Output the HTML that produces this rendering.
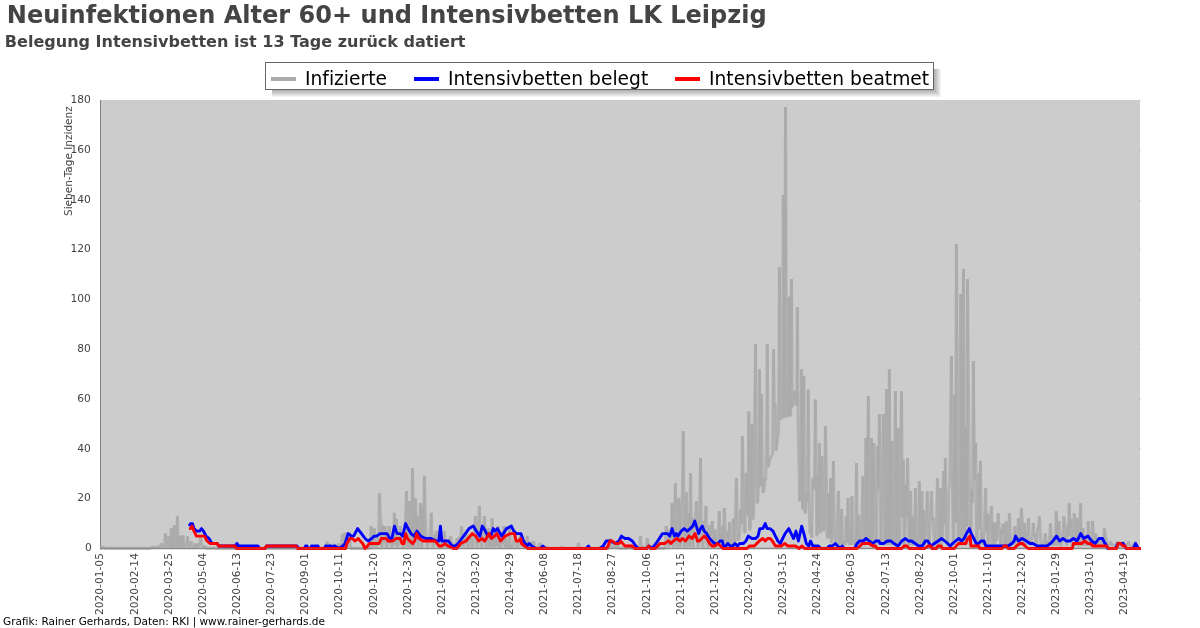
<!DOCTYPE html>
<html lang="de"><head><meta charset="utf-8"><title>Neuinfektionen Alter 60+ und Intensivbetten LK Leipzig</title>
<style>
html,body{margin:0;padding:0;background:#fff}
body{width:1200px;height:628px;overflow:hidden}
svg{display:block}
text{font-family:"DejaVu Sans","Liberation Sans",sans-serif;font-variant-ligatures:none}
.t{font-size:10.67px;fill:#444}
</style></head><body>
<svg width="1200" height="628" viewBox="0 0 1200 628">
<defs><clipPath id="cp"><rect x="100" y="99" width="1041.5" height="452"/></clipPath></defs>
<rect width="1200" height="628" fill="#fff"/>
<text x="6.8" y="23.4" font-size="24.05" font-weight="bold" fill="#444">Neuinfektionen Alter 60+ und Intensivbetten LK Leipzig</text>
<text x="4.8" y="46.9" font-size="16.05" font-weight="bold" fill="#444">Belegung Intensivbetten ist 13 Tage zurück datiert</text>
<rect x="100" y="100" width="1040" height="448" fill="#ccc"/>

<line x1="1140" y1="548.5" x2="1141.5" y2="548.5" stroke="#e4e4e4" stroke-width="1"/>
<text class="t" x="91.9" y="551.1" text-anchor="end">0</text>
<line x1="1140" y1="498.5" x2="1141.5" y2="498.5" stroke="#e4e4e4" stroke-width="1"/>
<text class="t" x="90.8" y="501.3" text-anchor="end">20</text>
<line x1="1140" y1="448.5" x2="1141.5" y2="448.5" stroke="#e4e4e4" stroke-width="1"/>
<text class="t" x="90.8" y="451.5" text-anchor="end">40</text>
<line x1="1140" y1="399.5" x2="1141.5" y2="399.5" stroke="#e4e4e4" stroke-width="1"/>
<text class="t" x="90.8" y="401.8" text-anchor="end">60</text>
<line x1="1140" y1="349.5" x2="1141.5" y2="349.5" stroke="#e4e4e4" stroke-width="1"/>
<text class="t" x="90.8" y="352.0" text-anchor="end">80</text>
<line x1="1140" y1="299.5" x2="1141.5" y2="299.5" stroke="#e4e4e4" stroke-width="1"/>
<text class="t" x="90.8" y="302.2" text-anchor="end">100</text>
<line x1="1140" y1="249.5" x2="1141.5" y2="249.5" stroke="#e4e4e4" stroke-width="1"/>
<text class="t" x="90.8" y="252.4" text-anchor="end">120</text>
<line x1="1140" y1="200.5" x2="1141.5" y2="200.5" stroke="#e4e4e4" stroke-width="1"/>
<text class="t" x="90.8" y="202.7" text-anchor="end">140</text>
<line x1="1140" y1="150.5" x2="1141.5" y2="150.5" stroke="#e4e4e4" stroke-width="1"/>
<text class="t" x="90.8" y="152.9" text-anchor="end">160</text>
<line x1="1140" y1="100.5" x2="1141.5" y2="100.5" stroke="#e4e4e4" stroke-width="1"/>
<text class="t" x="90.8" y="103.1" text-anchor="end">180</text>
<text class="t" transform="translate(103.4,615) rotate(-90)">2020-01-05</text>
<text class="t" transform="translate(137.5,615) rotate(-90)">2020-02-14</text>
<text class="t" transform="translate(171.7,615) rotate(-90)">2020-03-25</text>
<text class="t" transform="translate(205.8,615) rotate(-90)">2020-05-04</text>
<text class="t" transform="translate(239.9,615) rotate(-90)">2020-06-13</text>
<text class="t" transform="translate(274.1,615) rotate(-90)">2020-07-23</text>
<text class="t" transform="translate(308.2,615) rotate(-90)">2020-09-01</text>
<text class="t" transform="translate(342.3,615) rotate(-90)">2020-10-11</text>
<text class="t" transform="translate(376.5,615) rotate(-90)">2020-11-20</text>
<text class="t" transform="translate(410.6,615) rotate(-90)">2020-12-30</text>
<text class="t" transform="translate(444.7,615) rotate(-90)">2021-02-08</text>
<text class="t" transform="translate(478.9,615) rotate(-90)">2021-03-20</text>
<text class="t" transform="translate(513.0,615) rotate(-90)">2021-04-29</text>
<text class="t" transform="translate(547.1,615) rotate(-90)">2021-06-08</text>
<text class="t" transform="translate(581.3,615) rotate(-90)">2021-07-18</text>
<text class="t" transform="translate(615.4,615) rotate(-90)">2021-08-27</text>
<text class="t" transform="translate(649.5,615) rotate(-90)">2021-10-06</text>
<text class="t" transform="translate(683.7,615) rotate(-90)">2021-11-15</text>
<text class="t" transform="translate(717.8,615) rotate(-90)">2021-12-25</text>
<text class="t" transform="translate(751.9,615) rotate(-90)">2022-02-03</text>
<text class="t" transform="translate(786.1,615) rotate(-90)">2022-03-15</text>
<text class="t" transform="translate(820.2,615) rotate(-90)">2022-04-24</text>
<text class="t" transform="translate(854.3,615) rotate(-90)">2022-06-03</text>
<text class="t" transform="translate(888.5,615) rotate(-90)">2022-07-13</text>
<text class="t" transform="translate(922.6,615) rotate(-90)">2022-08-22</text>
<text class="t" transform="translate(956.7,615) rotate(-90)">2022-10-01</text>
<text class="t" transform="translate(990.9,615) rotate(-90)">2022-11-10</text>
<text class="t" transform="translate(1025.0,615) rotate(-90)">2022-12-20</text>
<text class="t" transform="translate(1059.1,615) rotate(-90)">2023-01-29</text>
<text class="t" transform="translate(1093.3,615) rotate(-90)">2023-03-10</text>
<text class="t" transform="translate(1127.4,615) rotate(-90)">2023-04-19</text>
<text class="t" style="font-size:10.5px" transform="translate(72,216) rotate(-90)">Sieben-Tage Inzidenz</text>
<line x1="100.5" y1="100" x2="100.5" y2="549" stroke="#808080" stroke-width="1"/>
<g clip-path="url(#cp)" fill="none">
<g stroke="#aaa" stroke-width="3" stroke-opacity="0.8" stroke-linecap="butt">
<path d="M100,548.3L102.3,548.3"/>
<path d="M102.3,548.3L103.2,546.4"/>
<path d="M103.2,546.4L104.1,548.3"/>
<path d="M104.1,548.3L151.4,548.3"/>
<path d="M151.4,548.3L152.3,546.3"/>
<path d="M152.3,546.3L153.1,547.8"/>
<path d="M153.1,547.8L154,547.3"/>
<path d="M154,547.3L154.8,546.5"/>
<path d="M154.8,546.5L155.6,547.2"/>
<path d="M155.6,547.2L156.5,547.4"/>
<path d="M156.5,547.4L157.3,546.7"/>
<path d="M157.3,546.7L158.2,547.4"/>
<path d="M158.2,547.4L159,546.7"/>
<path d="M159,546.7L159.8,546.3"/>
<path d="M159.8,546.3L160.7,545.6"/>
<path d="M160.7,545.6L161.5,543.3"/>
<path d="M161.5,543.3L162.3,547.4"/>
<path d="M162.3,547.4L163.1,547.4"/>
<path d="M163.1,547.4L163.8,547.2"/>
<path d="M163.8,547.2L164.6,547.4"/>
<path d="M164.6,547.4L165.4,533.2"/>
<path d="M165.4,533.2L166.2,540.4"/>
<path d="M166.2,540.4L167.1,547.2"/>
<path d="M167.1,547.2L167.9,547.4"/>
<path d="M167.9,547.4L168.8,536.1"/>
<path d="M168.8,536.1L169.6,539.5"/>
<path d="M169.6,539.5L170.5,547.4"/>
<path d="M170.5,547.4L171.3,528.2"/>
<path d="M171.3,528.2L172.1,545.3"/>
<path d="M172.1,545.3L172.8,547.4"/>
<path d="M172.8,547.4L173.6,539.6"/>
<path d="M173.6,539.6L174.3,525.2"/>
<path d="M174.3,525.2L175.1,546.3"/>
<path d="M175.1,546.3L175.9,547.4"/>
<path d="M175.9,547.4L176.6,547.4"/>
<path d="M176.6,547.4L177.4,516.2"/>
<path d="M177.4,516.2L178.2,546.5"/>
<path d="M178.2,546.5L179,539.1"/>
<path d="M179,539.1L179.8,547.4"/>
<path d="M179.8,547.4L180.6,535.7"/>
<path d="M180.6,535.7L181.4,541.2"/>
<path d="M181.4,541.2L182.2,547.4"/>
<path d="M182.2,547.4L183,535.3"/>
<path d="M183,535.3L183.9,543.6"/>
<path d="M183.9,543.6L184.8,547.4"/>
<path d="M184.8,547.4L185.7,544"/>
<path d="M185.7,544L186.6,545.6"/>
<path d="M186.6,545.6L187.5,536.2"/>
<path d="M187.5,536.2L188.4,547.4"/>
<path d="M188.4,547.4L189.3,547.4"/>
<path d="M189.3,547.4L190.3,543.4"/>
<path d="M190.3,543.4L191.2,541.3"/>
<path d="M191.2,541.3L192.1,545"/>
<path d="M192.1,545L192.9,547.4"/>
<path d="M192.9,547.4L193.8,547.2"/>
<path d="M193.8,547.2L194.6,547.4"/>
<path d="M194.6,547.4L195.5,543.4"/>
<path d="M195.5,543.4L196.3,547.4"/>
<path d="M196.3,547.4L197.2,544.6"/>
<path d="M197.2,544.6L198,547.4"/>
<path d="M198,547.4L198.8,543.2"/>
<path d="M198.8,543.2L199.7,545.5"/>
<path d="M199.7,545.5L200.5,538"/>
<path d="M200.5,538L201.4,542.4"/>
<path d="M201.4,542.4L202.2,547.4"/>
<path d="M202.2,547.4L203.1,547.4"/>
<path d="M203.1,547.4L203.9,547.4"/>
<path d="M203.9,547.4L204.8,545.4"/>
<path d="M204.8,545.4L205.7,548.3"/>
<path d="M205.7,548.3L326.1,548.3"/>
<path d="M326.1,548.3L327,541.5"/>
<path d="M327,541.5L327.9,544.1"/>
<path d="M327.9,544.1L328.8,546.1"/>
<path d="M328.8,546.1L329.6,544.3"/>
<path d="M329.6,544.3L330.5,547.3"/>
<path d="M330.5,547.3L331.4,547.3"/>
<path d="M331.4,547.3L332.2,546.1"/>
<path d="M332.2,546.1L333.1,545.7"/>
<path d="M333.1,545.7L334,544"/>
<path d="M334,544L334.9,547.2"/>
<path d="M334.9,547.2L335.8,547.3"/>
<path d="M335.8,547.3L336.7,546.5"/>
<path d="M336.7,546.5L337.6,547.3"/>
<path d="M337.6,547.3L338.5,543.5"/>
<path d="M338.5,543.5L339.4,547.1"/>
<path d="M339.4,547.1L340.3,546.1"/>
<path d="M340.3,546.1L341.2,547"/>
<path d="M341.2,547L342.1,535.6"/>
<path d="M342.1,535.6L343,534"/>
<path d="M343,534L344.1,547.3"/>
<path d="M344.1,547.3L345.1,532.6"/>
<path d="M345.1,532.6L346,539.4"/>
<path d="M346,539.4L346.9,547.3"/>
<path d="M346.9,547.3L347.7,541.7"/>
<path d="M347.7,541.7L348.6,542.9"/>
<path d="M348.6,542.9L349.5,532"/>
<path d="M349.5,532L350.4,548.3"/>
<path d="M350.4,548.3L370.3,548.3"/>
<path d="M370.3,548.3L371.1,526"/>
<path d="M371.1,526L371.9,544.7"/>
<path d="M371.9,544.7L372.6,547.2"/>
<path d="M372.6,547.2L373.4,547.2"/>
<path d="M373.4,547.2L374.2,528.4"/>
<path d="M374.2,528.4L375,536.3"/>
<path d="M375,536.3L375.9,544.6"/>
<path d="M375.9,544.6L376.8,547.2"/>
<path d="M376.8,547.2L377.6,540.5"/>
<path d="M377.6,540.5L378.5,537.5"/>
<path d="M378.5,537.5L379.4,493.1"/>
<path d="M379.4,493.1L380.2,513.9"/>
<path d="M380.2,513.9L381,522.2"/>
<path d="M381,522.2L381.8,547.2"/>
<path d="M381.8,547.2L382.6,525.6"/>
<path d="M382.6,525.6L383.4,542.6"/>
<path d="M383.4,542.6L384.2,540.2"/>
<path d="M384.2,540.2L385,526"/>
<path d="M385,526L385.9,547.2"/>
<path d="M385.9,547.2L386.7,547.2"/>
<path d="M386.7,547.2L387.6,545.9"/>
<path d="M387.6,545.9L388.4,532.8"/>
<path d="M388.4,532.8L389.3,526"/>
<path d="M389.3,526L390.1,543.9"/>
<path d="M390.1,543.9L391,542.7"/>
<path d="M391,542.7L391.8,547.2"/>
<path d="M391.8,547.2L392.7,540.3"/>
<path d="M392.7,540.3L393.5,540.5"/>
<path d="M393.5,540.5L394.4,512.9"/>
<path d="M394.4,512.9L395.3,545.4"/>
<path d="M395.3,545.4L396.3,518.7"/>
<path d="M396.3,518.7L397.1,547.2"/>
<path d="M397.1,547.2L397.8,547.2"/>
<path d="M397.8,547.2L398.6,543.2"/>
<path d="M398.6,543.2L399.4,537.9"/>
<path d="M399.4,537.9L400.2,526"/>
<path d="M400.2,526L401.1,540.5"/>
<path d="M401.1,540.5L402,537.4"/>
<path d="M402,537.4L402.9,547.2"/>
<path d="M402.9,547.2L403.8,547.2"/>
<path d="M403.8,547.2L404.7,528.5"/>
<path d="M404.7,528.5L405.6,516.4"/>
<path d="M405.6,516.4L406.5,491.1"/>
<path d="M406.5,491.1L407.4,547.2"/>
<path d="M407.4,547.2L408.3,541.1"/>
<path d="M408.3,541.1L409.2,501.2"/>
<path d="M409.2,501.2L410.1,512.8"/>
<path d="M410.1,512.8L410.9,547.2"/>
<path d="M410.9,547.2L411.7,533.5"/>
<path d="M411.7,533.5L412.5,467.9"/>
<path d="M412.5,467.9L413.3,536.3"/>
<path d="M413.3,536.3L414,547.2"/>
<path d="M414,547.2L414.8,510.2"/>
<path d="M414.8,510.2L415.5,498.1"/>
<path d="M415.5,498.1L416.4,539.9"/>
<path d="M416.4,539.9L417.2,515.9"/>
<path d="M417.2,515.9L418,547.2"/>
<path d="M418,547.2L418.8,527.7"/>
<path d="M418.8,527.7L419.7,533.6"/>
<path d="M419.7,533.6L420.5,503"/>
<path d="M420.5,503L421.3,547.2"/>
<path d="M421.3,547.2L422,547.2"/>
<path d="M422,547.2L422.8,506.7"/>
<path d="M422.8,506.7L423.6,535.1"/>
<path d="M423.6,535.1L424.4,475.8"/>
<path d="M424.4,475.8L425.2,514"/>
<path d="M425.2,514L426.1,535"/>
<path d="M426.1,535L427,547.2"/>
<path d="M427,547.2L427.9,547.2"/>
<path d="M427.9,547.2L428.7,536.8"/>
<path d="M428.7,536.8L429.6,541.3"/>
<path d="M429.6,541.3L430.5,527.7"/>
<path d="M430.5,527.7L431.4,512.9"/>
<path d="M431.4,512.9L432.2,545.5"/>
<path d="M432.2,545.5L433.1,547.2"/>
<path d="M433.1,547.2L433.9,547.2"/>
<path d="M433.9,547.2L434.8,534.2"/>
<path d="M434.8,534.2L435.6,539.2"/>
<path d="M435.6,539.2L436.5,530.8"/>
<path d="M436.5,530.8L437.3,544.4"/>
<path d="M437.3,544.4L438.2,537.1"/>
<path d="M438.2,537.1L439.1,547.2"/>
<path d="M439.1,547.2L439.9,547.2"/>
<path d="M439.9,547.2L440.8,544.6"/>
<path d="M440.8,544.6L441.7,542.6"/>
<path d="M441.7,542.6L442.6,546.9"/>
<path d="M442.6,546.9L443.4,545.6"/>
<path d="M443.4,545.6L444.3,531.4"/>
<path d="M444.3,531.4L444.6,531.4"/>
<path d="M444.6,531.4L445.5,547.2"/>
<path d="M445.5,547.2L446.3,541.8"/>
<path d="M446.3,541.8L447.2,547.2"/>
<path d="M447.2,547.2L448.1,544.4"/>
<path d="M448.1,544.4L448.9,539.9"/>
<path d="M448.9,539.9L449.8,539.5"/>
<path d="M449.8,539.5L450.6,536.2"/>
<path d="M450.6,536.2L451.5,547.2"/>
<path d="M451.5,547.2L452.4,542.6"/>
<path d="M452.4,542.6L453.3,547.2"/>
<path d="M453.3,547.2L454.2,546.8"/>
<path d="M454.2,546.8L455.1,547.2"/>
<path d="M455.1,547.2L456,547.2"/>
<path d="M456,547.2L456.9,538.1"/>
<path d="M456.9,538.1L457.9,540.2"/>
<path d="M457.9,540.2L458.8,547.2"/>
<path d="M458.8,547.2L459.7,536.5"/>
<path d="M459.7,536.5L460.6,547.2"/>
<path d="M460.6,547.2L461.5,526"/>
<path d="M461.5,526L462.4,538.6"/>
<path d="M462.4,538.6L463.3,547.2"/>
<path d="M463.3,547.2L464.2,538.5"/>
<path d="M464.2,538.5L465.1,543.9"/>
<path d="M465.1,543.9L466,532"/>
<path d="M466,532L466.8,537.5"/>
<path d="M466.8,537.5L467.6,547"/>
<path d="M467.6,547L468.4,547.2"/>
<path d="M468.4,547.2L469.2,547.2"/>
<path d="M469.2,547.2L470,540.5"/>
<path d="M470,540.5L470.8,536.9"/>
<path d="M470.8,536.9L471.8,540.1"/>
<path d="M471.8,540.1L472.7,547.2"/>
<path d="M472.7,547.2L473.6,534.8"/>
<path d="M473.6,534.8L474.5,530.2"/>
<path d="M474.5,530.2L475.4,516"/>
<path d="M475.4,516L476.2,539"/>
<path d="M476.2,539L477,547.2"/>
<path d="M477,547.2L477.8,524"/>
<path d="M477.8,524L478.6,523.5"/>
<path d="M478.6,523.5L479.4,506"/>
<path d="M479.4,506L480.3,535.5"/>
<path d="M480.3,535.5L481.1,547.2"/>
<path d="M481.1,547.2L482,547.2"/>
<path d="M482,547.2L482.8,533.4"/>
<path d="M482.8,533.4L483.7,532.9"/>
<path d="M483.7,532.9L484.5,516"/>
<path d="M484.5,516L485.3,539.6"/>
<path d="M485.3,539.6L486.1,547.2"/>
<path d="M486.1,547.2L486.8,547.2"/>
<path d="M486.8,547.2L487.6,546.2"/>
<path d="M487.6,546.2L488.4,528.4"/>
<path d="M488.4,528.4L489.2,538.2"/>
<path d="M489.2,538.2L489.9,547.2"/>
<path d="M489.9,547.2L490.7,532.1"/>
<path d="M490.7,532.1L491.5,533.7"/>
<path d="M491.5,533.7L492.3,518.1"/>
<path d="M492.3,518.1L493.1,547.2"/>
<path d="M493.1,547.2L493.9,533.6"/>
<path d="M493.9,533.6L494.7,547.2"/>
<path d="M494.7,547.2L495.6,539.8"/>
<path d="M495.6,539.8L496.4,533.7"/>
<path d="M496.4,533.7L497.2,546.1"/>
<path d="M497.2,546.1L498.1,526"/>
<path d="M498.1,526L498.9,547.2"/>
<path d="M498.9,547.2L499.8,547"/>
<path d="M499.8,547L500.7,547.2"/>
<path d="M500.7,547.2L501.5,540.3"/>
<path d="M501.5,540.3L502.4,544"/>
<path d="M502.4,544L503.2,537.1"/>
<path d="M503.2,537.1L504.1,526"/>
<path d="M504.1,526L505,547.2"/>
<path d="M505,547.2L505.9,538.4"/>
<path d="M505.9,538.4L506.8,547.2"/>
<path d="M506.8,547.2L507.7,543.7"/>
<path d="M507.7,543.7L508.6,547.2"/>
<path d="M508.6,547.2L509.6,526.6"/>
<path d="M509.6,526.6L510.5,547.2"/>
<path d="M510.5,547.2L511.4,547.2"/>
<path d="M511.4,547.2L512.3,547.2"/>
<path d="M512.3,547.2L513.2,545.6"/>
<path d="M513.2,545.6L514.1,537.3"/>
<path d="M514.1,537.3L515,532"/>
<path d="M515,532L515.9,540.7"/>
<path d="M515.9,540.7L516.8,547.1"/>
<path d="M516.8,547.1L517.7,547.1"/>
<path d="M517.7,547.1L518.6,544.5"/>
<path d="M518.6,544.5L519.5,541.5"/>
<path d="M519.5,541.5L520.4,534.4"/>
<path d="M520.4,534.4L521.3,546"/>
<path d="M521.3,546L522.2,543.9"/>
<path d="M522.2,543.9L523,547.1"/>
<path d="M523,547.1L523.9,547.1"/>
<path d="M523.9,547.1L524.8,540.3"/>
<path d="M524.8,540.3L525.6,544.5"/>
<path d="M525.6,544.5L526.5,542.9"/>
<path d="M526.5,542.9L527.3,535.9"/>
<path d="M527.3,535.9L528.2,545.4"/>
<path d="M528.2,545.4L529.1,547.1"/>
<path d="M529.1,547.1L529.9,547.1"/>
<path d="M529.9,547.1L530.8,542.7"/>
<path d="M530.8,542.7L531.7,543.1"/>
<path d="M531.7,543.1L532.5,544.2"/>
<path d="M532.5,544.2L533.4,541.1"/>
<path d="M533.4,541.1L534.2,543.6"/>
<path d="M534.2,543.6L535,547.1"/>
<path d="M535,547.1L535.8,547.1"/>
<path d="M535.8,547.1L536.6,547.1"/>
<path d="M536.6,547.1L537.4,547"/>
<path d="M537.4,547L538.2,547.1"/>
<path d="M538.2,547.1L539,546.5"/>
<path d="M539,546.5L539.8,542.9"/>
<path d="M539.8,542.9L540.6,547.1"/>
<path d="M540.6,547.1L541.5,546.6"/>
<path d="M541.5,546.6L542.3,547.1"/>
<path d="M542.3,547.1L543.1,547.1"/>
<path d="M543.1,547.1L544,545.9"/>
<path d="M544,545.9L544.8,547.1"/>
<path d="M544.8,547.1L545.6,547.4"/>
<path d="M545.6,547.4L546.5,545.9"/>
<path d="M546.5,545.9L547.3,548.3"/>
<path d="M547.3,548.3L561.2,548.3"/>
<path d="M561.2,548.3L562.1,546.3"/>
<path d="M562.1,546.3L563,548.3"/>
<path d="M563,548.3L577.6,548.3"/>
<path d="M577.6,548.3L578.4,542.9"/>
<path d="M578.4,542.9L579.3,548.3"/>
<path d="M579.3,548.3L609.6,548.3"/>
<path d="M609.6,548.3L610.5,538.1"/>
<path d="M610.5,538.1L611.3,547.1"/>
<path d="M611.3,547.1L612.1,547.1"/>
<path d="M612.1,547.1L612.9,547.1"/>
<path d="M612.9,547.1L613.7,547.1"/>
<path d="M613.7,547.1L614.5,545.7"/>
<path d="M614.5,545.7L615.3,547"/>
<path d="M615.3,547L616.1,545.7"/>
<path d="M616.1,545.7L616.9,547.1"/>
<path d="M616.9,547.1L617.7,545.3"/>
<path d="M617.7,545.3L618.6,548.3"/>
<path d="M618.6,548.3L627.8,548.3"/>
<path d="M627.8,548.3L628.6,544.1"/>
<path d="M628.6,544.1L629.5,548.3"/>
<path d="M629.5,548.3L639.6,548.3"/>
<path d="M639.6,548.3L640.5,535.9"/>
<path d="M640.5,535.9L641.3,546.7"/>
<path d="M641.3,546.7L642.2,547.1"/>
<path d="M642.2,547.1L643.1,547.1"/>
<path d="M643.1,547.1L643.9,547.1"/>
<path d="M643.9,547.1L644.8,546.1"/>
<path d="M644.8,546.1L645.7,546.9"/>
<path d="M645.7,546.9L646.5,547.1"/>
<path d="M646.5,547.1L647.4,538.1"/>
<path d="M647.4,538.1L648.2,547.1"/>
<path d="M648.2,547.1L649.1,547.1"/>
<path d="M649.1,547.1L649.9,545.8"/>
<path d="M649.9,545.8L650.8,547.4"/>
<path d="M650.8,547.4L651.6,545.9"/>
<path d="M651.6,545.9L652.5,548.3"/>
<path d="M652.5,548.3L665.1,548.3"/>
<path d="M665.1,548.3L666,526"/>
<path d="M666,526L666.9,533.6"/>
<path d="M666.9,533.6L667.7,528.9"/>
<path d="M667.7,528.9L668.6,547"/>
<path d="M668.6,547L669.5,542.2"/>
<path d="M669.5,542.2L670.4,534.6"/>
<path d="M670.4,534.6L671.2,541.7"/>
<path d="M671.2,541.7L672.1,503"/>
<path d="M672.1,503L672.9,545.9"/>
<path d="M672.9,545.9L673.8,547"/>
<path d="M673.8,547L674.6,517.5"/>
<path d="M674.6,517.5L675.4,483"/>
<path d="M675.4,483L676.2,538.6"/>
<path d="M676.2,538.6L677,547"/>
<path d="M677,547L677.9,547"/>
<path d="M677.9,547L678.7,498"/>
<path d="M678.7,498L679.6,516.4"/>
<path d="M679.6,516.4L680.5,547"/>
<path d="M680.5,547L681.5,508"/>
<path d="M681.5,508L682.4,492.3"/>
<path d="M682.4,492.3L683.3,431"/>
<path d="M683.3,431L684.1,547"/>
<path d="M684.1,547L684.9,546.9"/>
<path d="M684.9,546.9L685.7,502.6"/>
<path d="M685.7,502.6L686.5,492"/>
<path d="M686.5,492L687.3,542.4"/>
<path d="M687.3,542.4L688.1,547"/>
<path d="M688.1,547L688.9,513.3"/>
<path d="M688.9,513.3L689.7,547"/>
<path d="M689.7,547L690.5,473"/>
<path d="M690.5,473L691.3,524.1"/>
<path d="M691.3,524.1L692.2,517.8"/>
<path d="M692.2,517.8L693,547"/>
<path d="M693,547L693.8,531.2"/>
<path d="M693.8,531.2L694.6,525.3"/>
<path d="M694.6,525.3L695.5,516.5"/>
<path d="M695.5,516.5L696.3,501"/>
<path d="M696.3,501L697.1,516.7"/>
<path d="M697.1,516.7L698,547"/>
<path d="M698,547L698.8,523"/>
<path d="M698.8,523L699.7,509.9"/>
<path d="M699.7,509.9L700.5,458"/>
<path d="M700.5,458L701.4,533.9"/>
<path d="M701.4,533.9L702.3,547"/>
<path d="M702.3,547L703.2,547"/>
<path d="M703.2,547L704.2,521.3"/>
<path d="M704.2,521.3L705.1,522.5"/>
<path d="M705.1,522.5L706,506"/>
<path d="M706,506L706.9,541"/>
<path d="M706.9,541L707.8,547"/>
<path d="M707.8,547L708.7,547"/>
<path d="M708.7,547L709.5,525.2"/>
<path d="M709.5,525.2L710.4,535.8"/>
<path d="M710.4,535.8L711.3,531.8"/>
<path d="M711.3,531.8L712.2,521"/>
<path d="M712.2,521L713.1,541.1"/>
<path d="M713.1,541.1L714,547"/>
<path d="M714,547L714.9,529.5"/>
<path d="M714.9,529.5L715.8,547"/>
<path d="M715.8,547L716.6,545.1"/>
<path d="M716.6,545.1L717.5,536.8"/>
<path d="M717.5,536.8L718.4,533.8"/>
<path d="M718.4,533.8L719.3,511"/>
<path d="M719.3,511L720.1,547"/>
<path d="M720.1,547L721,534.4"/>
<path d="M721,534.4L721.8,547"/>
<path d="M721.8,547L722.6,525.7"/>
<path d="M722.6,525.7L723.5,545"/>
<path d="M723.5,545L724.3,508"/>
<path d="M724.3,508L725.2,526.7"/>
<path d="M725.2,526.7L726,547"/>
<path d="M726,547L726.9,547"/>
<path d="M726.9,547L727.8,531"/>
<path d="M727.8,531L728.6,544.5"/>
<path d="M728.6,544.5L729.5,522"/>
<path d="M729.5,522L730.4,544.6"/>
<path d="M730.4,544.6L731.4,547"/>
<path d="M731.4,547L732.3,547"/>
<path d="M732.3,547L733.2,518.7"/>
<path d="M733.2,518.7L734,524.7"/>
<path d="M734,524.7L734.8,547"/>
<path d="M734.8,547L735.6,508.4"/>
<path d="M735.6,508.4L736.4,478"/>
<path d="M736.4,478L737.3,520.4"/>
<path d="M737.3,520.4L738.1,540.7"/>
<path d="M738.1,540.7L739,538.1"/>
<path d="M739,538.1L739.8,530.7"/>
<path d="M739.8,530.7L740.7,509.4"/>
<path d="M740.7,509.4L741.5,523.7"/>
<path d="M741.5,523.7L742.4,436"/>
<path d="M742.4,436L743.3,488"/>
<path d="M743.3,488L744.2,532.9"/>
<path d="M744.2,532.9L745.1,532.4"/>
<path d="M745.1,532.4L746.1,472.9"/>
<path d="M746.1,472.9L747,495.1"/>
<path d="M747,495.1L747.9,515.5"/>
<path d="M747.9,515.5L748.8,411.5"/>
<path d="M748.8,411.5L749.5,530.2"/>
<path d="M749.5,530.2L750.3,528.9"/>
<path d="M750.3,528.9L751,467.5"/>
<path d="M751,467.5L751.8,424"/>
<path d="M751.8,424L752.7,519.8"/>
<path d="M752.7,519.8L753.6,516.3"/>
<path d="M753.6,516.3L754.6,423.1"/>
<path d="M754.6,423.1L755.5,344"/>
<path d="M755.5,344L756.3,471.4"/>
<path d="M756.3,471.4L757.1,503.4"/>
<path d="M757.1,503.4L757.9,500.4"/>
<path d="M757.9,500.4L758.7,475.8"/>
<path d="M758.7,475.8L759.5,369.3"/>
<path d="M759.5,369.3L760.5,486.3"/>
<path d="M760.5,486.3L761.6,394"/>
<path d="M761.6,394L762.4,477.4"/>
<path d="M762.4,477.4L763.2,492.8"/>
<path d="M763.2,492.8L764,488.6"/>
<path d="M764,488.6L764.9,478.7"/>
<path d="M764.9,478.7L765.7,480.3"/>
<path d="M765.7,480.3L766.5,436.2"/>
<path d="M766.5,436.2L767.3,344"/>
<path d="M767.3,344L768.2,467.3"/>
<path d="M768.2,467.3L769.1,462.8"/>
<path d="M769.1,462.8L770,458.2"/>
<path d="M770,458.2L770.8,457"/>
<path d="M770.8,457L771.7,456"/>
<path d="M771.7,456L772.6,454.9"/>
<path d="M772.6,454.9L773.5,349"/>
<path d="M773.5,349L774.3,406.6"/>
<path d="M774.3,406.6L775.2,403.6"/>
<path d="M775.2,403.6L776,450.8"/>
<path d="M776,450.8L776.9,444"/>
<path d="M776.9,444L777.7,437.3"/>
<path d="M777.7,437.3L778.6,430.5"/>
<path d="M778.6,430.5L779.4,267"/>
<path d="M779.4,267L780.2,419"/>
<path d="M780.2,419L781,418.7"/>
<path d="M781,418.7L781.7,418.5"/>
<path d="M781.7,418.5L782.5,418.3"/>
<path d="M782.5,418.3L783.3,195"/>
<path d="M783.3,195L784.4,417.8"/>
<path d="M784.4,417.8L785.5,107"/>
<path d="M785.5,107L786.4,371.9"/>
<path d="M786.4,371.9L787.2,417"/>
<path d="M787.2,417L788.1,416.8"/>
<path d="M788.1,416.8L789,296.7"/>
<path d="M789,296.7L789.8,416.3"/>
<path d="M789.8,416.3L790.7,416.1"/>
<path d="M790.7,416.1L791.5,279"/>
<path d="M791.5,279L792.3,407.3"/>
<path d="M792.3,407.3L793.2,401.8"/>
<path d="M793.2,401.8L794,396.3"/>
<path d="M794,396.3L794.9,390.8"/>
<path d="M794.9,390.8L795.7,397.1"/>
<path d="M795.7,397.1L796.6,405.6"/>
<path d="M796.6,405.6L797.4,307"/>
<path d="M797.4,307L798.2,429.7"/>
<path d="M798.2,429.7L799,465.8"/>
<path d="M799,465.8L799.9,501.8"/>
<path d="M799.9,501.8L800.7,476.1"/>
<path d="M800.7,476.1L801.5,369.3"/>
<path d="M801.5,369.3L802.6,509.6"/>
<path d="M802.6,509.6L803.8,376"/>
<path d="M803.8,376L804.7,510.8"/>
<path d="M804.7,510.8L805.6,513.5"/>
<path d="M805.6,513.5L806.4,494.4"/>
<path d="M806.4,494.4L807.3,501.8"/>
<path d="M807.3,501.8L808.2,389.4"/>
<path d="M808.2,389.4L809.1,499"/>
<path d="M809.1,499L810,533.4"/>
<path d="M810,533.4L810.9,525.7"/>
<path d="M810.9,525.7L811.8,537.8"/>
<path d="M811.8,537.8L812.6,478.6"/>
<path d="M812.6,478.6L813.5,478.4"/>
<path d="M813.5,478.4L814.4,489.8"/>
<path d="M814.4,489.8L815.3,399.4"/>
<path d="M815.3,399.4L816.1,463.9"/>
<path d="M816.1,463.9L816.9,536.3"/>
<path d="M816.9,536.3L817.8,474"/>
<path d="M817.8,474L818.6,526.2"/>
<path d="M818.6,526.2L819.4,443"/>
<path d="M819.4,443L820.2,533.3"/>
<path d="M820.2,533.3L821.1,492.7"/>
<path d="M821.1,492.7L821.9,456"/>
<path d="M821.9,456L822.8,484.9"/>
<path d="M822.8,484.9L823.6,531.1"/>
<path d="M823.6,531.1L824.5,519.8"/>
<path d="M824.5,519.8L825.4,426"/>
<path d="M825.4,426L826.3,474.5"/>
<path d="M826.3,474.5L827.1,536.7"/>
<path d="M827.1,536.7L828,538.1"/>
<path d="M828,538.1L828.9,493.5"/>
<path d="M828.9,493.5L829.7,538.2"/>
<path d="M829.7,538.2L830.6,478"/>
<path d="M830.6,478L831.5,543.1"/>
<path d="M831.5,543.1L832.5,505.9"/>
<path d="M832.5,505.9L833.4,461"/>
<path d="M833.4,461L834.2,530.9"/>
<path d="M834.2,530.9L835.1,540.3"/>
<path d="M835.1,540.3L836,543.7"/>
<path d="M836,543.7L836.8,526.9"/>
<path d="M836.8,526.9L837.6,513.3"/>
<path d="M837.6,513.3L838.5,491"/>
<path d="M838.5,491L839.3,544.2"/>
<path d="M839.3,544.2L840.1,544.3"/>
<path d="M840.1,544.3L840.9,526.7"/>
<path d="M840.9,526.7L841.7,509"/>
<path d="M841.7,509L842.6,544.7"/>
<path d="M842.6,544.7L843.5,541"/>
<path d="M843.5,541L844.4,544.9"/>
<path d="M844.4,544.9L845.3,545"/>
<path d="M845.3,545L846.2,516.3"/>
<path d="M846.2,516.3L847.1,542.6"/>
<path d="M847.1,542.6L848,498"/>
<path d="M848,498L848.8,529.4"/>
<path d="M848.8,529.4L849.6,545"/>
<path d="M849.6,545L850.3,529.2"/>
<path d="M850.3,529.2L851.1,545"/>
<path d="M851.1,545L851.9,496"/>
<path d="M851.9,496L852.8,538.6"/>
<path d="M852.8,538.6L853.7,545"/>
<path d="M853.7,545L854.7,540.4"/>
<path d="M854.7,540.4L855.6,543.2"/>
<path d="M855.6,543.2L856.5,463"/>
<path d="M856.5,463L857.3,545"/>
<path d="M857.3,545L858.1,517.1"/>
<path d="M858.1,517.1L858.9,514.9"/>
<path d="M858.9,514.9L859.8,545"/>
<path d="M859.8,545L860.6,535.8"/>
<path d="M860.6,535.8L861.4,535.1"/>
<path d="M861.4,535.1L862.2,504.3"/>
<path d="M862.2,504.3L863,476"/>
<path d="M863,476L863.8,545.1"/>
<path d="M863.8,545.1L864.5,545.1"/>
<path d="M864.5,545.1L865.2,537.9"/>
<path d="M865.2,537.9L866,438"/>
<path d="M866,438L866.8,545.1"/>
<path d="M866.8,545.1L867.6,455.9"/>
<path d="M867.6,455.9L868.4,396"/>
<path d="M868.4,396L869.1,545.1"/>
<path d="M869.1,545.1L869.9,545.1"/>
<path d="M869.9,545.1L870.6,517.4"/>
<path d="M870.6,517.4L871.4,438"/>
<path d="M871.4,438L872.2,545.1"/>
<path d="M872.2,545.1L873,507.6"/>
<path d="M873,507.6L873.8,443"/>
<path d="M873.8,443L874.7,514.4"/>
<path d="M874.7,514.4L875.6,545.1"/>
<path d="M875.6,545.1L876.6,543.3"/>
<path d="M876.6,543.3L877.5,446"/>
<path d="M877.5,446L878.5,488.8"/>
<path d="M878.5,488.8L879.4,414"/>
<path d="M879.4,414L880.2,468.1"/>
<path d="M880.2,468.1L881,545.1"/>
<path d="M881,545.1L881.8,502.7"/>
<path d="M881.8,502.7L882.6,477.4"/>
<path d="M882.6,477.4L883.4,414"/>
<path d="M883.4,414L884.2,505.1"/>
<path d="M884.2,505.1L885,545.1"/>
<path d="M885,545.1L885.7,525.5"/>
<path d="M885.7,525.5L886.5,389"/>
<path d="M886.5,389L887.5,545.1"/>
<path d="M887.5,545.1L888.4,539.6"/>
<path d="M888.4,539.6L889.4,369.3"/>
<path d="M889.4,369.3L890.2,545.1"/>
<path d="M890.2,545.1L891.1,473.6"/>
<path d="M891.1,473.6L891.9,441"/>
<path d="M891.9,441L892.8,545.1"/>
<path d="M892.8,545.1L893.6,545.1"/>
<path d="M893.6,545.1L894.5,482.5"/>
<path d="M894.5,482.5L895.4,391.3"/>
<path d="M895.4,391.3L896.3,545.1"/>
<path d="M896.3,545.1L897.1,490.6"/>
<path d="M897.1,490.6L898,428"/>
<path d="M898,428L898.9,545.2"/>
<path d="M898.9,545.2L899.8,545.2"/>
<path d="M899.8,545.2L900.6,463.9"/>
<path d="M900.6,463.9L901.5,391.3"/>
<path d="M901.5,391.3L902.4,517.3"/>
<path d="M902.4,517.3L903.2,459.8"/>
<path d="M903.2,459.8L904.1,545.2"/>
<path d="M904.1,545.2L904.9,545.2"/>
<path d="M904.9,545.2L905.8,485.1"/>
<path d="M905.8,485.1L906.6,517.6"/>
<path d="M906.6,517.6L907.5,458"/>
<path d="M907.5,458L908.3,496.5"/>
<path d="M908.3,496.5L909,545.2"/>
<path d="M909,545.2L909.8,515.6"/>
<path d="M909.8,515.6L910.6,491"/>
<path d="M910.6,491L911.4,545.2"/>
<path d="M911.4,545.2L912.2,516.5"/>
<path d="M912.2,516.5L913,545.2"/>
<path d="M913,545.2L913.8,517.6"/>
<path d="M913.8,517.6L914.6,543.1"/>
<path d="M914.6,543.1L915.4,488"/>
<path d="M915.4,488L916.2,531.9"/>
<path d="M916.2,531.9L917,545.2"/>
<path d="M917,545.2L917.8,545.2"/>
<path d="M917.8,545.2L918.6,530.2"/>
<path d="M918.6,530.2L919.4,481"/>
<path d="M919.4,481L920.2,545.2"/>
<path d="M920.2,545.2L921.1,520.9"/>
<path d="M921.1,520.9L921.9,491"/>
<path d="M921.9,491L922.8,545.2"/>
<path d="M922.8,545.2L923.7,510.3"/>
<path d="M923.7,510.3L924.6,545.2"/>
<path d="M924.6,545.2L925.5,533.2"/>
<path d="M925.5,533.2L926.4,521.1"/>
<path d="M926.4,521.1L927.3,491"/>
<path d="M927.3,491L928.1,524.5"/>
<path d="M928.1,524.5L929,545.2"/>
<path d="M929,545.2L929.8,531.3"/>
<path d="M929.8,531.3L930.7,508.2"/>
<path d="M930.7,508.2L931.5,491"/>
<path d="M931.5,491L932.4,520.9"/>
<path d="M932.4,520.9L933.2,517.6"/>
<path d="M933.2,517.6L934.1,545.3"/>
<path d="M934.1,545.3L934.9,545.3"/>
<path d="M934.9,545.3L935.8,544.6"/>
<path d="M935.8,544.6L936.6,517.8"/>
<path d="M936.6,517.8L937.5,478"/>
<path d="M937.5,478L938.3,512.5"/>
<path d="M938.3,512.5L939,545.3"/>
<path d="M939,545.3L939.8,529.1"/>
<path d="M939.8,529.1L940.6,488"/>
<path d="M940.6,488L941.6,545.3"/>
<path d="M941.6,545.3L942.5,536.2"/>
<path d="M942.5,536.2L943.5,471"/>
<path d="M943.5,471L944.5,524.2"/>
<path d="M944.5,524.2L945.4,458"/>
<path d="M945.4,458L946.3,537.3"/>
<path d="M946.3,537.3L947.1,545.3"/>
<path d="M947.1,545.3L948,545.3"/>
<path d="M948,545.3L948.8,488.4"/>
<path d="M948.8,488.4L949.7,487.1"/>
<path d="M949.7,487.1L950.5,427.7"/>
<path d="M950.5,427.7L951.4,356"/>
<path d="M951.4,356L952.2,460.8"/>
<path d="M952.2,460.8L953.1,543.7"/>
<path d="M953.1,543.7L953.9,545.1"/>
<path d="M953.9,545.1L954.7,395"/>
<path d="M954.7,395L955.6,522.5"/>
<path d="M955.6,522.5L956.4,244"/>
<path d="M956.4,244L957.3,420.5"/>
<path d="M957.3,420.5L958.2,544"/>
<path d="M958.2,544L959.1,545.3"/>
<path d="M959.1,545.3L960,375.5"/>
<path d="M960,375.5L960.9,294"/>
<path d="M960.9,294L961.8,545.3"/>
<path d="M961.8,545.3L962.6,453.1"/>
<path d="M962.6,453.1L963.5,269"/>
<path d="M963.5,269L964.3,506.3"/>
<path d="M964.3,506.3L965.1,545.3"/>
<path d="M965.1,545.3L965.9,427.1"/>
<path d="M965.9,427.1L966.7,527"/>
<path d="M966.7,527L967.5,279"/>
<path d="M967.5,279L968.3,377.3"/>
<path d="M968.3,377.3L969.2,470.2"/>
<path d="M969.2,470.2L970,545.4"/>
<path d="M970,545.4L970.9,545.4"/>
<path d="M970.9,545.4L971.7,489"/>
<path d="M971.7,489L972.6,502.8"/>
<path d="M972.6,502.8L973.4,361"/>
<path d="M973.4,361L974.5,479.2"/>
<path d="M974.5,479.2L975.6,443"/>
<path d="M975.6,443L976.4,545.4"/>
<path d="M976.4,545.4L977.2,545.4"/>
<path d="M977.2,545.4L978,505.8"/>
<path d="M978,505.8L978.8,473"/>
<path d="M978.8,473L979.6,529.2"/>
<path d="M979.6,529.2L980.4,461"/>
<path d="M980.4,461L981.3,544.2"/>
<path d="M981.3,544.2L982.1,532.5"/>
<path d="M982.1,532.5L983,545.4"/>
<path d="M983,545.4L983.9,538.4"/>
<path d="M983.9,538.4L984.7,513.4"/>
<path d="M984.7,513.4L985.6,488"/>
<path d="M985.6,488L986.4,531.1"/>
<path d="M986.4,531.1L987.3,513.4"/>
<path d="M987.3,513.4L988.1,545.4"/>
<path d="M988.1,545.4L988.9,545.4"/>
<path d="M988.9,545.4L989.8,515.4"/>
<path d="M989.8,515.4L990.6,518.5"/>
<path d="M990.6,518.5L991.5,506"/>
<path d="M991.5,506L992.3,544.6"/>
<path d="M992.3,544.6L993.1,522.5"/>
<path d="M993.1,522.5L994,535.5"/>
<path d="M994,535.5L994.8,545.4"/>
<path d="M994.8,545.4L995.7,522.5"/>
<path d="M995.7,522.5L996.5,540.9"/>
<path d="M996.5,540.9L997.4,534.4"/>
<path d="M997.4,534.4L998.2,513.3"/>
<path d="M998.2,513.3L999.1,526.4"/>
<path d="M999.1,526.4L999.9,532"/>
<path d="M999.9,532L1000.8,545.4"/>
<path d="M1000.8,545.4L1001.6,529"/>
<path d="M1001.6,529L1002.5,533"/>
<path d="M1002.5,533L1003.3,523.5"/>
<path d="M1003.3,523.5L1004.1,537.2"/>
<path d="M1004.1,537.2L1004.8,545.5"/>
<path d="M1004.8,545.5L1005.6,536.3"/>
<path d="M1005.6,536.3L1006.3,521.1"/>
<path d="M1006.3,521.1L1007.1,545.5"/>
<path d="M1007.1,545.5L1007.8,545.5"/>
<path d="M1007.8,545.5L1008.6,545.5"/>
<path d="M1008.6,545.5L1009.4,513.3"/>
<path d="M1009.4,513.3L1010.3,535.5"/>
<path d="M1010.3,535.5L1011.2,544.5"/>
<path d="M1011.2,544.5L1012.1,545.5"/>
<path d="M1012.1,545.5L1013,545.5"/>
<path d="M1013,545.5L1013.9,540"/>
<path d="M1013.9,540L1014.8,526"/>
<path d="M1014.8,526L1015.7,543.1"/>
<path d="M1015.7,543.1L1016.6,545.5"/>
<path d="M1016.6,545.5L1017.5,539.4"/>
<path d="M1017.5,539.4L1018.4,518.1"/>
<path d="M1018.4,518.1L1019.2,530.2"/>
<path d="M1019.2,530.2L1019.9,545.5"/>
<path d="M1019.9,545.5L1020.7,522.1"/>
<path d="M1020.7,522.1L1021.5,508.4"/>
<path d="M1021.5,508.4L1022.2,524.1"/>
<path d="M1022.2,524.1L1023,545.5"/>
<path d="M1023,545.5L1023.7,542.6"/>
<path d="M1023.7,542.6L1024.5,522.9"/>
<path d="M1024.5,522.9L1025.3,545.3"/>
<path d="M1025.3,545.3L1026.1,545.5"/>
<path d="M1026.1,545.5L1026.9,532.5"/>
<path d="M1026.9,532.5L1027.7,535.1"/>
<path d="M1027.7,535.1L1028.5,518.1"/>
<path d="M1028.5,518.1L1029.3,540.2"/>
<path d="M1029.3,540.2L1030.1,542"/>
<path d="M1030.1,542L1030.9,545.5"/>
<path d="M1030.9,545.5L1031.7,537.2"/>
<path d="M1031.7,537.2L1032.5,537"/>
<path d="M1032.5,537L1033.3,522.9"/>
<path d="M1033.3,522.9L1034.2,536.3"/>
<path d="M1034.2,536.3L1035,533.7"/>
<path d="M1035,533.7L1035.9,545.5"/>
<path d="M1035.9,545.5L1036.8,545.5"/>
<path d="M1036.8,545.5L1037.6,527.6"/>
<path d="M1037.6,527.6L1038.5,528.3"/>
<path d="M1038.5,528.3L1039.4,516.3"/>
<path d="M1039.4,516.3L1040.2,530"/>
<path d="M1040.2,530L1041.1,545.6"/>
<path d="M1041.1,545.6L1041.9,545.6"/>
<path d="M1041.9,545.6L1042.8,545.6"/>
<path d="M1042.8,545.6L1043.7,541.9"/>
<path d="M1043.7,541.9L1044.5,540.4"/>
<path d="M1044.5,540.4L1045.4,533.2"/>
<path d="M1045.4,533.2L1046.2,545.6"/>
<path d="M1046.2,545.6L1047.1,541"/>
<path d="M1047.1,541L1047.9,545.6"/>
<path d="M1047.9,545.6L1048.8,545.6"/>
<path d="M1048.8,545.6L1049.6,537"/>
<path d="M1049.6,537L1050.5,523.5"/>
<path d="M1050.5,523.5L1051.3,537.6"/>
<path d="M1051.3,537.6L1052.1,535.4"/>
<path d="M1052.1,535.4L1053,545.6"/>
<path d="M1053,545.6L1053.8,537"/>
<path d="M1053.8,537L1054.6,545.6"/>
<path d="M1054.6,545.6L1055.5,538.9"/>
<path d="M1055.5,538.9L1056.3,511.2"/>
<path d="M1056.3,511.2L1057.2,545.6"/>
<path d="M1057.2,545.6L1058.1,530.2"/>
<path d="M1058.1,530.2L1059,521.1"/>
<path d="M1059,521.1L1059.8,545.6"/>
<path d="M1059.8,545.6L1060.6,545.6"/>
<path d="M1060.6,545.6L1061.5,545.6"/>
<path d="M1061.5,545.6L1062.3,534.6"/>
<path d="M1062.3,534.6L1063.2,531.2"/>
<path d="M1063.2,531.2L1064,516.3"/>
<path d="M1064,516.3L1064.9,542.1"/>
<path d="M1064.9,542.1L1065.8,536.7"/>
<path d="M1065.8,536.7L1066.6,545.6"/>
<path d="M1066.6,545.6L1067.5,524.9"/>
<path d="M1067.5,524.9L1068.4,536.1"/>
<path d="M1068.4,536.1L1069.2,503.2"/>
<path d="M1069.2,503.2L1070.1,527.8"/>
<path d="M1070.1,527.8L1070.9,519.4"/>
<path d="M1070.9,519.4L1071.8,545.6"/>
<path d="M1071.8,545.6L1072.6,545.6"/>
<path d="M1072.6,545.6L1073.5,528.8"/>
<path d="M1073.5,528.8L1074.3,513.3"/>
<path d="M1074.3,513.3L1075.1,526.4"/>
<path d="M1075.1,526.4L1075.8,545.7"/>
<path d="M1075.8,545.7L1076.6,539.4"/>
<path d="M1076.6,539.4L1077.3,518.1"/>
<path d="M1077.3,518.1L1078.1,545.7"/>
<path d="M1078.1,545.7L1078.9,545.7"/>
<path d="M1078.9,545.7L1079.7,544.5"/>
<path d="M1079.7,544.5L1080.5,503.2"/>
<path d="M1080.5,503.2L1081.4,545.7"/>
<path d="M1081.4,545.7L1082.3,536.6"/>
<path d="M1082.3,536.6L1083.1,528.4"/>
<path d="M1083.1,528.4L1084,545.7"/>
<path d="M1084,545.7L1084.8,537.3"/>
<path d="M1084.8,537.3L1085.7,545.7"/>
<path d="M1085.7,545.7L1086.5,534.6"/>
<path d="M1086.5,534.6L1087.4,545.7"/>
<path d="M1087.4,545.7L1088.2,521.1"/>
<path d="M1088.2,521.1L1089.1,543.4"/>
<path d="M1089.1,543.4L1089.9,545.7"/>
<path d="M1089.9,545.7L1090.8,545.7"/>
<path d="M1090.8,545.7L1091.6,541.7"/>
<path d="M1091.6,541.7L1092.5,521"/>
<path d="M1092.5,521L1092.6,521.1"/>
<path d="M1092.6,521.1L1093.4,535.8"/>
<path d="M1093.4,535.8L1094.1,545.7"/>
<path d="M1094.1,545.7L1094.9,544.2"/>
<path d="M1094.9,544.2L1095.7,533.4"/>
<path d="M1095.7,533.4L1096.7,545.7"/>
<path d="M1096.7,545.7L1097.6,545.7"/>
<path d="M1097.6,545.7L1098.5,543.1"/>
<path d="M1098.5,543.1L1099.5,540"/>
<path d="M1099.5,540L1100.3,545.4"/>
<path d="M1100.3,545.4L1101.2,545.7"/>
<path d="M1101.2,545.7L1102,545.7"/>
<path d="M1102,545.7L1102.8,541.6"/>
<path d="M1102.8,541.6L1103.7,536.6"/>
<path d="M1103.7,536.6L1104.5,528.3"/>
<path d="M1104.5,528.3L1105.3,536.3"/>
<path d="M1105.3,536.3L1106.2,537.8"/>
<path d="M1106.2,537.8L1107,545.7"/>
<path d="M1107,545.7L1107.9,545.7"/>
<path d="M1107.9,545.7L1108.7,545.7"/>
<path d="M1108.7,545.7L1109.6,545.7"/>
<path d="M1109.6,545.7L1110.4,541.3"/>
<path d="M1110.4,541.3L1111.3,545.8"/>
<path d="M1111.3,545.8L1112.2,543.7"/>
<path d="M1112.2,543.7L1113,543.9"/>
<path d="M1113,543.9L1113.9,545.8"/>
<path d="M1113.9,545.8L1114.8,545.8"/>
<path d="M1114.8,545.8L1115.7,545.8"/>
<path d="M1115.7,545.8L1116.5,545.8"/>
<path d="M1116.5,545.8L1117.4,541.3"/>
<path d="M1117.4,541.3L1118.2,545.8"/>
<path d="M1118.2,545.8L1119,545.8"/>
<path d="M1119,545.8L1119.8,545.8"/>
<path d="M1119.8,545.8L1120.6,545.8"/>
<path d="M1120.6,545.8L1121.4,544.3"/>
<path d="M1121.4,544.3L1122.2,545.5"/>
<path d="M1122.2,545.5L1123,541.3"/>
<path d="M1123,541.3L1123.9,544.2"/>
<path d="M1123.9,544.2L1124.8,545.4"/>
<path d="M1124.8,545.4L1125.8,545.8"/>
<path d="M1125.8,545.8L1126.7,544.5"/>
<path d="M1126.7,544.5L1127.6,544"/>
<path d="M1127.6,544L1128.5,541.3"/>
<path d="M1128.5,541.3L1129.4,545.8"/>
<path d="M1129.4,545.8L1130.2,545.8"/>
<path d="M1130.2,545.8L1131.1,545.6"/>
<path d="M1131.1,545.6L1132,545.8"/>
<path d="M1132,545.8L1132.9,545.4"/>
<path d="M1132.9,545.4L1133.8,543.6"/>
<path d="M1133.8,543.6L1134.6,545"/>
<path d="M1134.6,545L1135.5,541.3"/>
<path d="M1135.5,541.3L1136.4,548.3"/>
<path d="M1136.4,548.3L1140,548.3"/>
</g>
<line x1="100" y1="548.5" x2="1140" y2="548.5" stroke="#8c8c8c" stroke-width="1.4"/>
<polyline stroke="#0000ff" stroke-width="2.9" stroke-linejoin="round" points="189.2,526.1 190.5,523.6 192.5,523.6 194.0,528.6 196.5,531.1 199.5,531.1 201.5,528.6 203.5,531.1 206.0,536.1 209.0,538.5 212.0,543.5 217.0,543.5 219.0,546.0 235.0,546.0 237.0,543.5 238.5,546.0 258.0,546.0 259.5,548.5 265.0,548.5 266.5,546.0 297.0,546.0 298.5,548.5 304.5,548.5 305.5,546.0 307.0,546.0 308.0,548.5 310.5,548.5 311.5,546.0 313.0,546.0 314.0,548.5 315.0,546.0 318.0,546.0 319.0,548.5 324.5,548.5 325.5,546.0 327.0,546.0 328.0,548.5 329.0,546.0 331.0,546.0 332.0,548.5 334.0,546.0 334.8,546.0 339.1,548.5 342.7,546.0 345.1,543.5 348.1,533.6 351.8,536.1 353.6,536.1 357.6,528.6 361.5,533.6 365.1,538.5 368.1,541.0 371.7,538.5 374.2,536.1 376.6,536.1 380.2,533.6 386.9,533.6 389.9,538.5 391.9,538.5 394.5,526.1 397.1,533.6 400.2,533.6 402.6,536.1 405.6,523.6 408.0,528.6 411.0,533.6 414.1,536.1 416.9,531.1 420.7,536.1 425.6,538.5 431.0,538.5 436.5,541.0 438.9,541.0 440.4,526.1 441.9,541.0 444.9,541.0 447.9,541.0 448.5,541.0 452.1,546.0 455.1,546.0 458.1,543.5 461.8,538.5 465.4,533.6 469.0,528.6 473.3,526.1 476.3,531.1 479.9,536.1 482.3,526.1 485.4,531.1 487.8,536.1 490.8,536.1 493.2,528.6 495.0,531.1 497.5,528.6 501.7,536.1 506.5,528.6 511.4,526.1 513.8,531.1 516.2,533.6 521.0,533.6 523.5,541.0 527.1,546.0 529.3,543.5 531.9,546.0 535.6,548.5 540.4,548.5 542.8,546.0 545.2,548.5 550.1,548.5 586.3,548.5 588.5,546.0 589.9,548.5 599.6,548.5 603.2,546.0 606.2,541.0 610.5,541.0 615.3,543.5 619.0,541.0 621.4,536.1 625.0,538.5 628.6,538.5 632.3,541.0 635.9,546.0 638.3,548.5 646.8,548.5 649.0,546.0 651.0,548.5 654.0,546.0 657.7,541.0 662.5,533.6 666.1,533.6 667.3,533.6 669.7,536.1 672.1,528.6 674.5,536.1 676.3,533.6 678.1,536.1 681.2,531.1 684.2,528.6 687.2,531.1 690.2,528.6 692.7,526.1 694.8,521.1 696.3,526.1 698.7,533.6 700.5,528.6 702.3,526.1 704.2,531.1 706.6,533.6 709.6,538.5 712.0,541.0 714.4,543.5 718.1,543.5 719.9,541.0 722.3,541.0 723.5,546.0 725.9,546.0 727.7,543.5 730.2,546.0 732.6,546.0 735.0,543.5 737.4,546.0 739.8,543.5 743.5,543.5 745.9,541.0 748.3,536.1 751.9,538.5 755.6,538.5 758.0,536.1 759.8,528.6 762.8,528.6 765.2,523.6 767.1,528.6 769.5,528.6 770.0,528.6 773.0,531.1 775.4,536.1 777.9,541.0 780.3,543.5 782.7,538.5 785.1,533.6 788.8,528.6 791.2,533.6 793.6,538.5 796.0,531.1 798.4,541.0 801.7,526.1 803.9,533.6 806.3,543.5 808.7,546.0 810.5,541.0 812.9,546.0 815.4,546.0 818.4,546.0 820.8,548.5 826.9,548.5 829.3,546.0 832.3,546.0 835.3,543.5 837.7,546.0 840.2,548.5 842.0,546.0 844.4,548.5 854.7,548.5 857.1,543.5 859.5,541.0 863.1,541.0 866.2,538.5 869.2,541.0 872.8,543.5 875.8,541.0 878.9,541.0 880.0,543.5 883.6,543.5 887.3,541.0 890.9,541.0 893.9,543.5 898.1,546.0 901.8,541.0 905.4,538.5 908.4,541.0 911.5,541.0 915.1,543.5 918.7,546.0 922.3,546.0 925.4,541.0 927.8,541.0 930.8,546.0 934.4,543.5 938.1,541.0 941.7,538.5 944.7,541.0 947.7,543.5 950.2,546.0 952.6,543.5 955.6,541.0 958.6,538.5 961.7,541.0 964.1,538.5 966.5,533.6 969.3,528.6 971.3,533.6 973.8,538.5 976.2,543.5 978.6,543.5 981.0,541.0 984.0,541.0 985.8,546.0 988.9,546.0 990.0,546.0 1002.1,546.0 1008.1,546.0 1011.8,543.5 1014.2,541.0 1015.6,536.1 1018.4,541.0 1022.1,538.5 1026.3,541.0 1029.9,543.5 1032.9,543.5 1037.2,546.0 1046.9,546.0 1050.5,543.5 1052.9,541.0 1056.5,536.1 1059.6,541.0 1063.2,538.5 1066.2,541.0 1069.8,541.0 1073.5,538.5 1077.1,541.0 1080.7,533.6 1083.8,538.5 1088.0,536.1 1091.6,541.0 1095.2,543.5 1098.9,538.5 1102.5,538.5 1104.9,543.5 1105.3,543.5 1107.8,548.5 1115.5,548.5 1118.0,543.5 1123.1,543.5 1126.3,548.5 1133.3,548.5 1135.5,543.5 1138.4,548.5 1141.0,548.5"/>
<polyline stroke="#ff0000" stroke-width="2.9" stroke-linejoin="round" points="189.0,528.6 190.5,528.6 192.0,526.1 194.0,531.1 196.5,536.1 204.5,536.1 207.0,541.0 210.0,543.5 217.0,543.5 219.0,546.0 235.0,546.0 236.5,548.5 265.0,548.5 266.5,546.0 296.0,546.0 297.5,548.5 345.5,548.5 346.9,543.5 350.0,538.5 352.4,538.5 354.8,541.0 358.4,538.5 360.2,541.0 362.7,543.5 365.1,548.5 367.5,546.0 369.3,543.5 379.0,543.5 381.4,538.5 386.2,538.5 388.1,541.0 392.9,541.0 395.9,538.5 400.2,538.5 402.0,543.5 404.0,543.5 405.6,533.6 407.4,538.5 409.8,541.0 412.9,543.5 414.7,541.0 416.5,533.6 418.9,538.5 423.1,541.0 428.0,541.0 431.0,541.0 435.2,541.0 438.9,546.0 441.9,546.0 444.9,543.5 447.9,546.0 448.5,546.0 453.3,548.5 456.9,548.5 460.6,543.5 466.0,541.0 472.1,533.6 475.7,536.1 478.7,541.0 481.7,538.5 484.8,541.0 489.0,533.6 491.4,538.5 494.4,536.1 496.9,533.6 500.5,541.0 505.3,536.1 510.2,533.6 514.4,533.6 516.2,541.0 518.6,541.0 520.8,538.5 521.5,543.5 524.7,546.0 527.7,548.5 548.9,548.5 550.0,548.5 606.2,548.5 608.1,546.0 609.9,541.0 612.3,541.0 615.3,543.5 619.0,543.5 620.8,541.0 622.6,543.5 625.0,546.0 632.3,546.0 634.7,548.5 646.8,548.5 648.6,546.0 650.4,548.5 655.2,548.5 657.7,546.0 660.1,543.5 664.9,543.5 667.9,541.0 668.5,541.0 670.9,543.5 673.3,541.0 676.9,538.5 680.0,541.0 682.4,538.5 685.4,541.0 689.0,536.1 692.1,538.5 695.1,533.6 697.5,541.0 699.3,541.0 701.7,538.5 704.2,536.1 706.6,538.5 709.6,543.5 712.0,546.0 715.0,546.0 717.5,543.5 720.5,546.0 722.9,548.5 747.1,548.5 749.5,546.0 751.9,546.0 754.4,546.0 756.8,543.5 759.2,541.0 762.8,538.5 765.2,541.0 767.7,538.5 769.5,538.5 770.0,538.5 772.4,541.0 775.4,546.0 778.5,546.0 781.5,546.0 784.5,543.5 788.1,546.0 792.4,546.0 795.4,546.0 799.0,548.5 802.1,546.0 804.5,548.5 857.1,548.5 860.1,546.0 862.5,543.5 869.2,543.5 872.8,546.0 875.2,546.0 877.1,548.5 878.9,548.5 880.0,548.5 901.8,548.5 904.2,546.0 907.2,546.0 909.0,548.5 924.8,548.5 927.8,546.0 930.8,546.0 932.0,548.5 934.4,548.5 936.2,548.5 938.1,546.0 941.1,546.0 942.3,548.5 954.4,548.5 956.2,546.0 958.6,543.5 965.9,543.5 967.7,538.5 970.1,536.1 971.0,546.0 978.6,546.0 979.8,548.5 988.9,548.5 990.0,548.5 1002.1,548.5 1003.9,546.0 1006.3,546.0 1008.1,548.5 1014.2,548.5 1016.6,546.0 1019.6,543.5 1022.7,543.5 1025.1,546.0 1028.1,548.5 1072.3,548.5 1073.5,543.5 1076.5,543.5 1078.3,543.5 1081.9,543.5 1084.4,541.0 1088.0,543.5 1090.4,543.5 1092.8,546.0 1103.7,546.0 1106.7,546.0 1108.5,548.5 1116.8,548.5 1118.0,543.5 1120.6,543.5 1123.1,546.0 1125.0,546.0 1126.6,548.5 1141.0,548.5"/>
<line x1="100" y1="548.5" x2="1140" y2="548.5" stroke="#888" stroke-width="1" stroke-opacity="0.3"/>
</g>
<rect x="272" y="69" width="663" height="22" fill="#000" fill-opacity="0.046"/>
<rect x="272" y="69" width="664" height="23" fill="#000" fill-opacity="0.046"/>
<rect x="272" y="69" width="665" height="24" fill="#000" fill-opacity="0.046"/>
<rect x="272" y="69" width="666" height="25" fill="#000" fill-opacity="0.046"/>
<rect x="272" y="69" width="667" height="26" fill="#000" fill-opacity="0.046"/>
<rect x="272" y="69" width="668" height="27" fill="#000" fill-opacity="0.046"/>
<rect x="272" y="69" width="669" height="28" fill="#000" fill-opacity="0.046"/>
<rect x="265.5" y="62.5" width="668" height="27" fill="#fff" stroke="#666" stroke-width="1"/>
<line x1="271" y1="79" x2="296" y2="79" stroke="#aaa" stroke-width="4"/>
<text x="305" y="85.4" font-size="18.67" fill="#000">Infizierte</text>
<line x1="414" y1="79" x2="439" y2="79" stroke="#00f" stroke-width="4"/>
<text x="448" y="85.4" font-size="18.67" fill="#000">Intensivbetten belegt</text>
<line x1="675" y1="79" x2="700" y2="79" stroke="#f00" stroke-width="4"/>
<text x="709" y="85.4" font-size="18.67" fill="#000">Intensivbetten beatmet</text>
<text x="3" y="625" font-size="10.5" fill="#000">Grafik: Rainer Gerhards, Daten: RKI | www.rainer-gerhards.de</text>
</svg></body></html>
